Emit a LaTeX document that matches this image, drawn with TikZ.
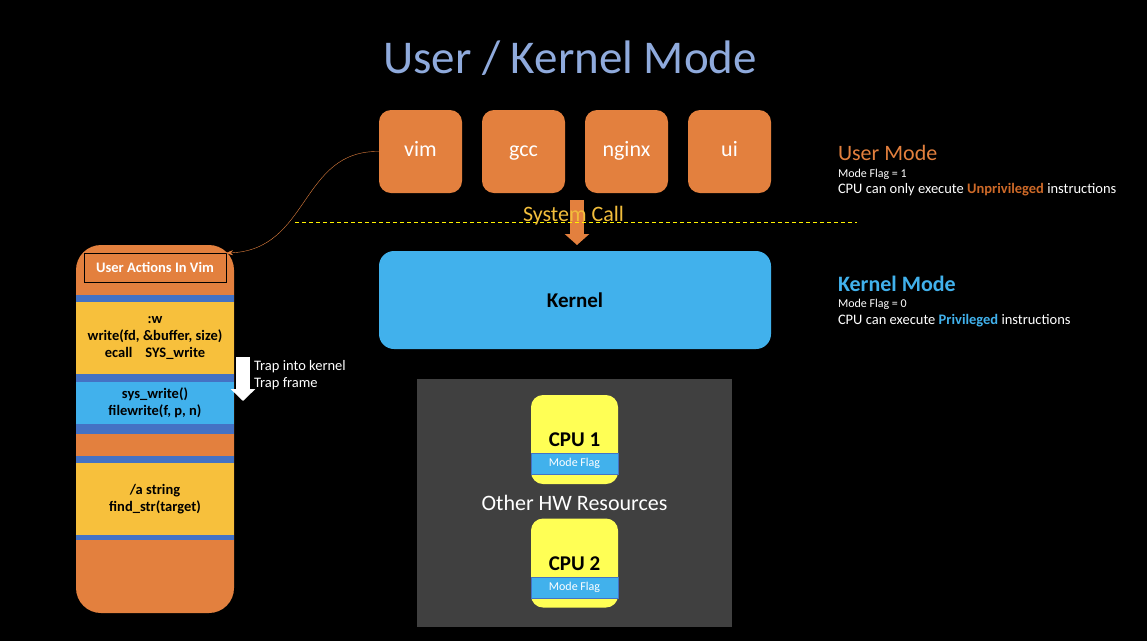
\documentclass[tikz,border=0pt]{standalone}
\usepackage{fontspec}
\setmainfont{Carlito}
\usetikzlibrary{positioning, arrows.meta}

\definecolor{uorange}{RGB}{227,128,62}
\definecolor{dorange}{RGB}{205,105,40}
\definecolor{kblue}{RGB}{65,177,236}
\definecolor{tblue}{RGB}{143,170,220}
\definecolor{cpuyellow}{RGB}{255,255,85}
\definecolor{blockyellow}{RGB}{247,192,60}
\definecolor{bandblue}{RGB}{68,114,196}
\definecolor{hwgray}{RGB}{64,64,64}
\definecolor{callyellow}{RGB}{242,190,60}
\newcommand{\fsz}[2]{\fontsize{#1}{#2}\selectfont}

\begin{document}
\begin{tikzpicture}[x=1pt, y=-1pt, outer sep=0pt, inner sep=0pt,
    appbox/.style={fill=uorange, rounded corners=12pt, minimum width=83pt, minimum height=83pt,
        text=white, font=\fsz{22}{26}, text height=10pt, text depth=0pt},
    cpubox/.style={fill=cpuyellow, rounded corners=12pt, minimum width=87pt, minimum height=89pt},
    flagbar/.style={fill=kblue, draw=bandblue, line width=0.8pt, minimum width=87pt, minimum height=21pt,
        text=white, font=\fsz{12}{14}, text height=8.5pt, text depth=2.5pt},
    band/.style={fill=bandblue, minimum width=158pt},
    block/.style={minimum width=158pt, align=center, font=\bfseries\fsz{14.5}{17}},
    note/.style={anchor=base west, text=white}]

\fill (0,0) rectangle (1147,641);
\useasboundingbox (0,0) rectangle (1147,641);

\node[anchor=base, text=tblue, font=\fsz{47}{56}] (title) at (570,73) {User / Kernel Mode};

% user programs
\node[appbox]                      (vim)   at (420.5,151.5) {vim};
\node[appbox, right=20pt of vim]   (gcc)   {gcc};
\node[appbox, right=20pt of gcc]   (nginx) {nginx};
\node[appbox, right=20pt of nginx] (ui)    {ui};

\node[fill=kblue, rounded corners=15pt, minimum width=392pt, minimum height=98pt,
    font=\bfseries\fsz{21}{25}] (kernel) at (575,300) {Kernel};

% system call
\coordinate (calltop) at (577,200);
\draw[uorange, line width=14pt, -{Triangle[length=11pt, width=24pt]}, shorten >=6pt] (calltop) -- (calltop|-kernel.north);
\draw[yellow, dash pattern=on 4pt off 3pt] (295,222) -- (857,222);
\node[anchor=base, text=callyellow, font=\fsz{22}{26}] (syscall) at (573.5,221) {System Call};

% modes
\node[note, text=uorange, font=\fsz{22}{26}]  (umode) at (838,160) {User Mode};
\node[note, font=\fsz{12}{14}]                (uflag) at (838,177) {Mode Flag = 1};
\node[note, font=\fsz{14.5}{17}]              (urule) at (838,193) {CPU can only execute \textcolor{dorange}{\bfseries Unprivileged} instructions};
\node[note, text=kblue, font=\bfseries\fsz{22}{26}] (kmode) at (838,291) {Kernel Mode};
\node[note, font=\fsz{12}{14}]                (kflag) at (838,307) {Mode Flag = 0};
\node[note, font=\fsz{14.5}{17}]              (krule) at (838,324) {CPU can execute \textcolor{kblue}{\bfseries Privileged} instructions};

% hardware
\node[fill=hwgray, minimum width=315pt, minimum height=248pt] (hw) at (574.5,503) {};
\node[cpubox]  (cpu1)  at (574.5,439.5) {};
\node[flagbar] (flag1) at (574.5,463.5) {Mode Flag};
\node[anchor=base, font=\bfseries\fsz{21}{25}] (cpu1 label) at (574.5,446) {CPU 1};
\node[anchor=base, text=white, font=\fsz{22}{26}] (hwlabel) at (574.5,510) {Other HW Resources};
\node[cpubox]  (cpu2)  at (574.5,563) {};
\node[flagbar] (flag2) at (574.5,587.5) {Mode Flag};
\node[anchor=base, font=\bfseries\fsz{21}{25}] (cpu2 label) at (574.5,570) {CPU 2};

% vim stack
\node[fill=uorange, rounded corners=25pt, minimum width=158pt, minimum height=368pt] (stack) at (155,429) {};
\node[draw=black, line width=1pt, minimum width=142pt, minimum height=29pt, text=white,
    font=\bfseries\fsz{14.5}{17}] (header) at (155,267.5) {User Actions In Vim};
\node[band, minimum height=139pt] (band1) at (155,364.5) {};
\node[block, fill=blockyellow, minimum height=72pt] (write) at (155,338)
    {:w\\write(fd, \&buffer, size)\\ecall\hspace{0.9em}SYS\_write};
\node[block, fill=kblue, minimum height=42pt] (syswrite) at (155,403)
    {sys\_write()\\filewrite(f, p, n)};
\node[band, minimum height=84pt] (band2) at (155,498) {};
\node[block, fill=blockyellow, minimum height=72pt] (search) at (155,499)
    {/a string\\find\_str(target)};

% trap
\coordinate (traptop) at (243,357);
\coordinate (trapend) at (243,401);
\draw[white, line width=14pt, -{Triangle[length=12pt, width=24pt]}] (traptop) -- (trapend);
\node[note, font=\fsz{14.5}{17}] (trap1) at (254,370) {Trap into kernel};
\node[note, font=\fsz{14.5}{17}] (trap2) at (254,387) {Trap frame};

\draw[uorange, -{Stealth[length=7pt, width=5pt]}] (vim.west) .. controls (300,150) and (310,250) .. (header.north east);
\end{tikzpicture}
\end{document}
